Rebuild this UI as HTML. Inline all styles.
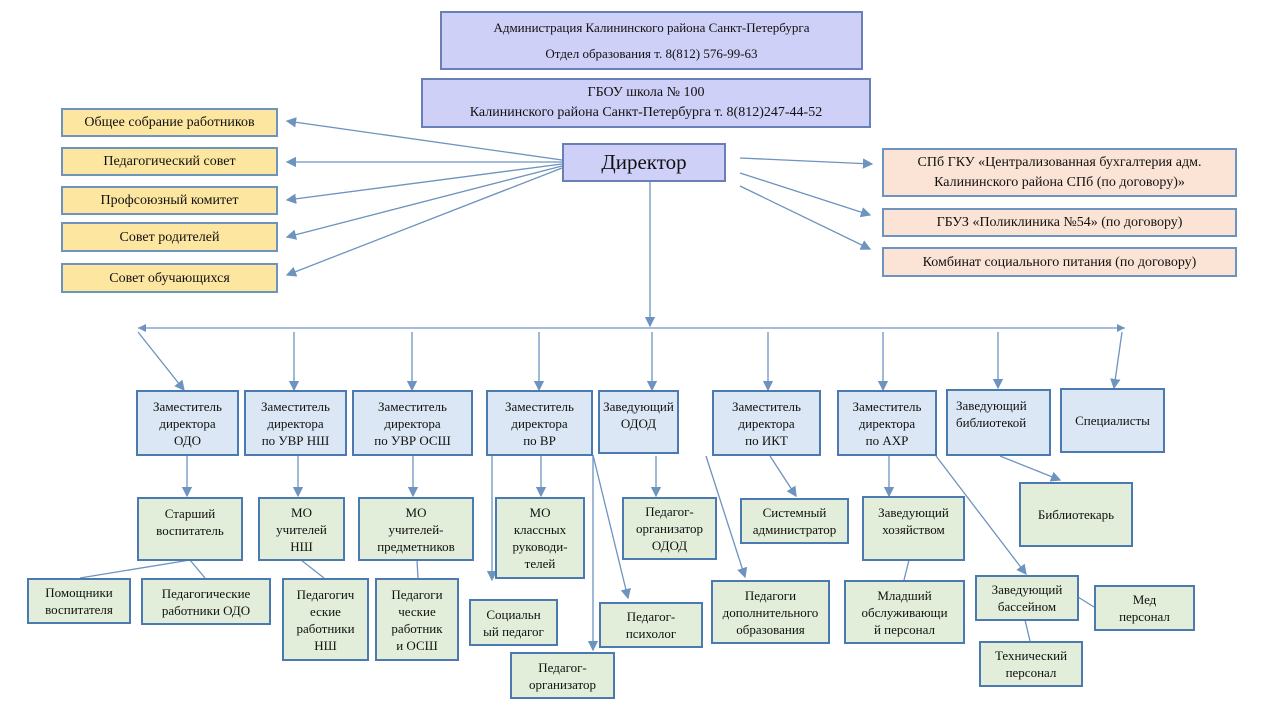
<!DOCTYPE html>
<html><head><meta charset="utf-8"><style>
body{margin:0;width:1280px;height:720px;background:#fff;position:relative;overflow:hidden;font-family:"Liberation Serif",serif;}
.b{position:absolute;box-sizing:border-box;border:2px solid #4a7ab0;display:flex;align-items:center;justify-content:center;text-align:center;font-size:13px;line-height:17px;color:#111;}
.t{background:#cfd0f7;border-color:#6a7fb5}
.y{background:#fde6a0;border-color:#6d93bf}
.p{background:#fbe4d5;border-color:#6d93bf}
.m{background:#dbe7f4;border-color:#4a7ab0}
.g{background:#e2eed9;border-color:#4a7ab0}
svg{position:absolute;left:0;top:0}
</style></head><body>
<svg width="1280" height="720"><defs><marker id="a" markerWidth="8" markerHeight="8" refX="7" refY="4" orient="auto"><path d="M0,0L8,4L0,8z" fill="#6d93bf"/></marker></defs>
<g stroke="#6d93bf" stroke-width="1.3" fill="none" marker-end="url(#a)">
<line x1="562" y1="160" x2="287" y2="121"/><line x1="562" y1="162" x2="287" y2="162"/><line x1="562" y1="164" x2="287" y2="200"/><line x1="562" y1="166" x2="287" y2="237"/><line x1="562" y1="168" x2="287" y2="275"/>
<line x1="740" y1="158" x2="872" y2="164"/><line x1="740" y1="173" x2="870" y2="215"/><line x1="740" y1="186" x2="870" y2="249"/>
<line x1="650" y1="181" x2="650" y2="326"/>
<line x1="138" y1="332" x2="184" y2="390"/><line x1="294" y1="332" x2="294" y2="390"/><line x1="412" y1="332" x2="412" y2="390"/><line x1="539" y1="332" x2="539" y2="390"/><line x1="652" y1="332" x2="652" y2="390"/><line x1="768" y1="332" x2="768" y2="390"/><line x1="883" y1="332" x2="883" y2="390"/><line x1="998" y1="332" x2="998" y2="388"/><line x1="1122" y1="332" x2="1114" y2="388"/>
<line x1="187" y1="455" x2="187" y2="496"/><line x1="298" y1="455" x2="298" y2="496"/><line x1="413" y1="455" x2="413" y2="496"/><line x1="541" y1="455" x2="541" y2="496"/><line x1="656" y1="456" x2="656" y2="496"/><line x1="770" y1="456" x2="796" y2="496"/><line x1="889" y1="456" x2="889" y2="496"/><line x1="1000" y1="456" x2="1060" y2="480"/>
<line x1="492" y1="455" x2="492" y2="580"/><line x1="593" y1="455" x2="628" y2="598"/><line x1="593" y1="455" x2="593" y2="650"/><line x1="706" y1="456" x2="745" y2="577"/><line x1="936" y1="456" x2="1026" y2="574"/>
</g>
<g stroke="#6d93bf" stroke-width="1.3" fill="none">
<line x1="138" y1="328" x2="1125" y2="328"/>
<line x1="190" y1="560" x2="80" y2="578"/><line x1="190" y1="560" x2="205" y2="578"/><line x1="301" y1="560" x2="324" y2="578"/><line x1="417" y1="560" x2="418" y2="578"/><line x1="909" y1="560" x2="904" y2="580"/><line x1="1078" y1="597" x2="1094" y2="607"/><line x1="1025" y1="620" x2="1030" y2="641"/>
</g>
<polygon points="1125,328 1117,324 1117,332" fill="#6d93bf"/><polygon points="138,328 146,324 146,332" fill="#6d93bf"/>
</svg>
<div class="b t" style="left:440px;top:11px;width:423px;height:59px;flex-direction:column;line-height:26px">Администрация Калининского района Санкт-Петербурга<br>Отдел образования т. 8(812) 576-99-63</div>
<div class="b t" style="left:421px;top:78px;width:450px;height:50px;font-size:14px;line-height:20px">ГБОУ школа № 100<br>Калининского района Санкт-Петербурга т. 8(812)247-44-52</div>
<div class="b t" style="left:562px;top:143px;width:164px;height:39px;font-size:21px">Директор</div>
<div class="b y" style="left:61px;top:108px;width:217px;height:29px;font-size:14px">Общее собрание работников</div>
<div class="b y" style="left:61px;top:147px;width:217px;height:29px;font-size:14px">Педагогический совет</div>
<div class="b y" style="left:61px;top:186px;width:217px;height:29px;font-size:14px">Профсоюзный комитет</div>
<div class="b y" style="left:61px;top:222px;width:217px;height:30px;font-size:14px">Совет родителей</div>
<div class="b y" style="left:61px;top:263px;width:217px;height:30px;font-size:14px">Совет обучающихся</div>
<div class="b p" style="left:882px;top:148px;width:355px;height:49px;font-size:14px;line-height:20px">СПб ГКУ «Централизованная бухгалтерия адм.<br>Калининского района СПб (по договору)»</div>
<div class="b p" style="left:882px;top:208px;width:355px;height:29px;font-size:14px">ГБУЗ «Поликлиника №54» (по договору)</div>
<div class="b p" style="left:882px;top:247px;width:355px;height:30px;font-size:14px">Комбинат социального питания (по договору)</div>
<div class="b m" style="left:136px;top:390px;width:103px;height:66px">Заместитель<br>директора<br>ОДО</div>
<div class="b m" style="left:244px;top:390px;width:103px;height:66px">Заместитель<br>директора<br>по УВР НШ</div>
<div class="b m" style="left:352px;top:390px;width:121px;height:66px">Заместитель<br>директора<br>по УВР ОСШ</div>
<div class="b m" style="left:486px;top:390px;width:107px;height:66px">Заместитель<br>директора<br>по ВР</div>
<div class="b m" style="left:598px;top:390px;width:81px;height:64px;align-items:flex-start;padding-top:6px">Заведующий<br>ОДОД</div>
<div class="b m" style="left:712px;top:390px;width:109px;height:66px">Заместитель<br>директора<br>по ИКТ</div>
<div class="b m" style="left:837px;top:390px;width:100px;height:66px">Заместитель<br>директора<br>по АХР</div>
<div class="b m" style="left:946px;top:389px;width:105px;height:67px;align-items:flex-start;padding-top:6px;justify-content:flex-start;padding-left:8px;text-align:left">Заведующий<br>библиотекой</div>
<div class="b m" style="left:1060px;top:388px;width:105px;height:65px">Специалисты</div>
<div class="b g" style="left:137px;top:497px;width:106px;height:64px;align-items:flex-start;padding-top:6px">Старший<br>воспитатель</div>
<div class="b g" style="left:258px;top:497px;width:87px;height:64px">МО<br>учителей<br>НШ</div>
<div class="b g" style="left:358px;top:497px;width:116px;height:64px">МО<br>учителей-<br>предметников</div>
<div class="b g" style="left:495px;top:497px;width:90px;height:82px">МО<br>классных<br>руководи-<br>телей</div>
<div class="b g" style="left:622px;top:497px;width:95px;height:63px">Педагог-<br>организатор<br>ОДОД</div>
<div class="b g" style="left:740px;top:498px;width:109px;height:46px">Системный<br>администратор</div>
<div class="b g" style="left:862px;top:496px;width:103px;height:65px;align-items:flex-start;padding-top:6px">Заведующий<br>хозяйством</div>
<div class="b g" style="left:1019px;top:482px;width:114px;height:65px">Библиотекарь</div>
<div class="b g" style="left:27px;top:578px;width:104px;height:46px">Помощники<br>воспитателя</div>
<div class="b g" style="left:141px;top:578px;width:130px;height:47px">Педагогические<br>работники ОДО</div>
<div class="b g" style="left:282px;top:578px;width:87px;height:83px">Педагогич<br>еские<br>работники<br>НШ</div>
<div class="b g" style="left:375px;top:578px;width:84px;height:83px">Педагоги<br>ческие<br>работник<br>и ОСШ</div>
<div class="b g" style="left:469px;top:599px;width:89px;height:47px">Социальн<br>ый педагог</div>
<div class="b g" style="left:510px;top:652px;width:105px;height:47px">Педагог-<br>организатор</div>
<div class="b g" style="left:599px;top:602px;width:104px;height:46px">Педагог-<br>психолог</div>
<div class="b g" style="left:711px;top:580px;width:119px;height:64px">Педагоги<br>дополнительного<br>образования</div>
<div class="b g" style="left:844px;top:580px;width:121px;height:64px">Младший<br>обслуживающи<br>й персонал</div>
<div class="b g" style="left:975px;top:575px;width:104px;height:46px">Заведующий<br>бассейном</div>
<div class="b g" style="left:1094px;top:585px;width:101px;height:46px">Мед<br>персонал</div>
<div class="b g" style="left:979px;top:641px;width:104px;height:46px">Технический<br>персонал</div>
</body></html>
